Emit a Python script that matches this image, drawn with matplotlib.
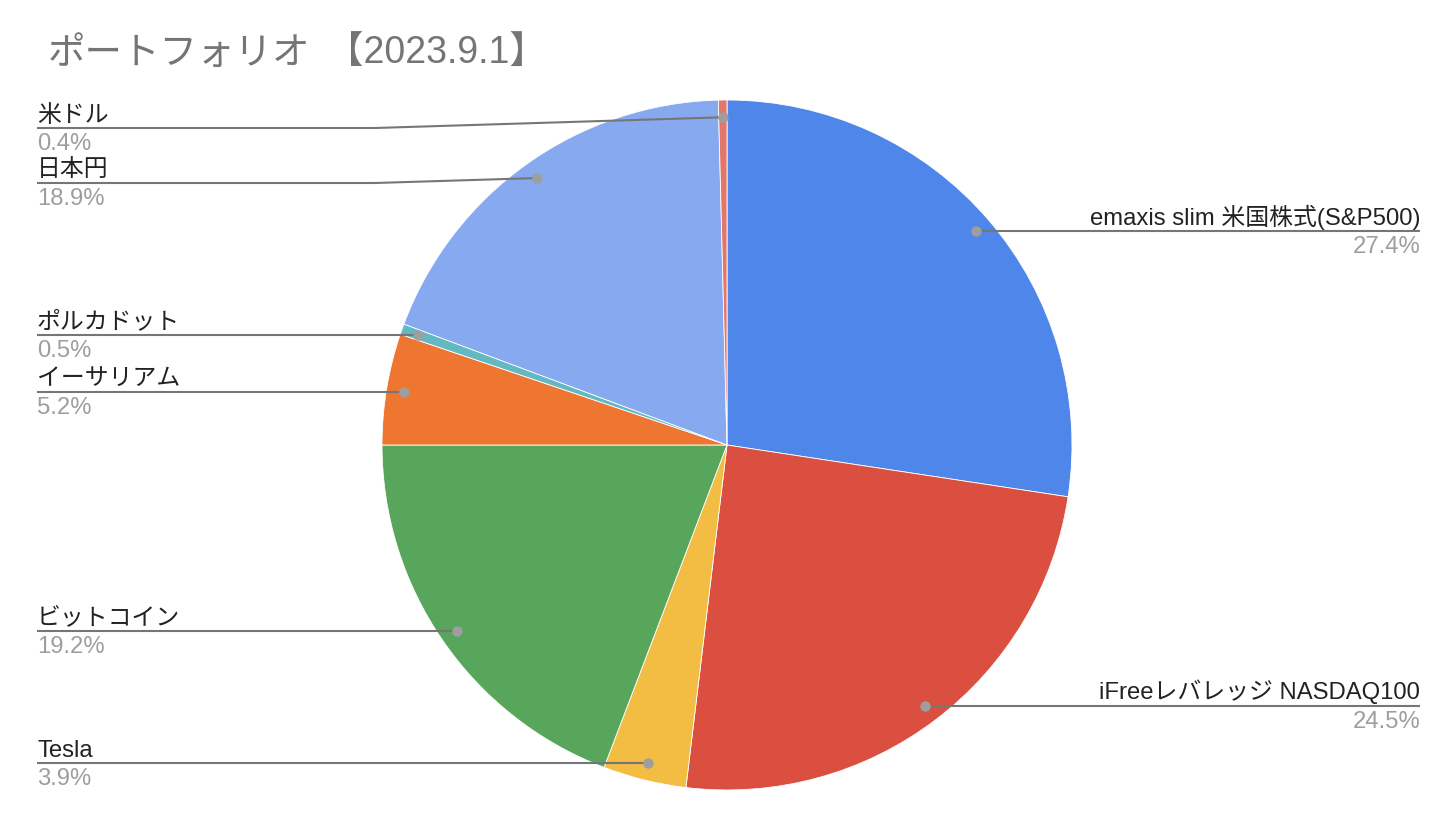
import numpy as np
import matplotlib
matplotlib.use("Agg")
import matplotlib.pyplot as plt

# ---- data ----
title_jp = "ポートフォリオ"
title_date = "【2023.9.1】"
labels = ["emaxis slim 米国株式(S&P500)", "iFreeレバレッジ NASDAQ100", "Tesla",
          "ビットコイン", "イーサリアム", "ポルカドット", "日本円", "米ドル"]
values = [27.4, 24.5, 3.9, 19.2, 5.2, 0.5, 18.9, 0.4]
colors = ["#4F86E9", "#DB4F40", "#F2BD42", "#58A65C", "#EE7631", "#63B8C2", "#86A9F0", "#E2766A"]

W, H = 1456, 826
FONT = ["Liberation Sans", "Noto Sans CJK JP", "DejaVu Sans"]
plt.rcParams["font.family"] = FONT

fig = plt.figure(figsize=(W / 100, H / 100), dpi=100)
ax = fig.add_axes([0, 0, 1, 1])

cx, cy_px, R = 727, 445, 345
cy = H - cy_px

ax.pie(values, colors=colors, startangle=90, counterclock=False,
       center=(cx, cy), radius=R,
       wedgeprops=dict(linewidth=0.6, edgecolor="white"))
ax.set_xlim(0, W)
ax.set_ylim(0, H)
ax.set_aspect("equal")
ax.axis("off")

# anchor points inside the slices
total = sum(values)
cum = np.cumsum(values)
mids = (cum - np.array(values) / 2) / total * 2 * np.pi
px = cx + 0.95 * R * np.sin(mids)
py_px = cy_px - 0.95 * R * np.cos(mids)

left = [i for i in range(len(values)) if px[i] < cx]
right = [i for i in range(len(values)) if px[i] >= cx]

def layout(idx, top=128, gap=55):
    idx = sorted(idx, key=lambda i: py_px[i])
    ys = {}
    prev = None
    for i in idx:
        y = max(py_px[i], top)
        if prev is not None:
            y = max(y, prev + gap)
        ys[i] = y
        prev = y
    return ys

line_col = "#767676"
fs = 17.2
for side, idx in (("L", left), ("R", right)):
    ys = layout(idx)
    for i, ly_px in ys.items():
        ly = H - ly_px
        if side == "L":
            xe, elbow, ha = 37, 375, "left"
        else:
            xe, elbow, ha = 1420, 1079, "right"
        ax.plot([xe, elbow, px[i]], [ly, ly, H - py_px[i]], color=line_col,
                lw=1.5, solid_capstyle="butt", zorder=3)
        ax.plot(px[i], H - py_px[i], "o", ms=7.5, color="#9E9E9E",
                mec="none", zorder=4)
        ax.text(xe, ly + 6.5, labels[i], ha=ha, va="baseline", fontsize=fs,
                color="#222222", family=FONT, zorder=5)
        ax.text(xe, ly - 5, f"{values[i]:.1f}%", ha=ha, va="top", fontsize=fs,
                color="#9E9E9E", family=FONT, zorder=5)

# title: Japanese part and date part
fig.text(48 / W, 1 - 64 / H, title_jp, ha="left", va="baseline", fontsize=27,
         color="#757575", family=FONT)
fig.text(326 / W, 1 - 64 / H, title_date, ha="left", va="baseline", fontsize=27,
         color="#757575", family=FONT)

fig.savefig("out.png", dpi=100, facecolor="white")
